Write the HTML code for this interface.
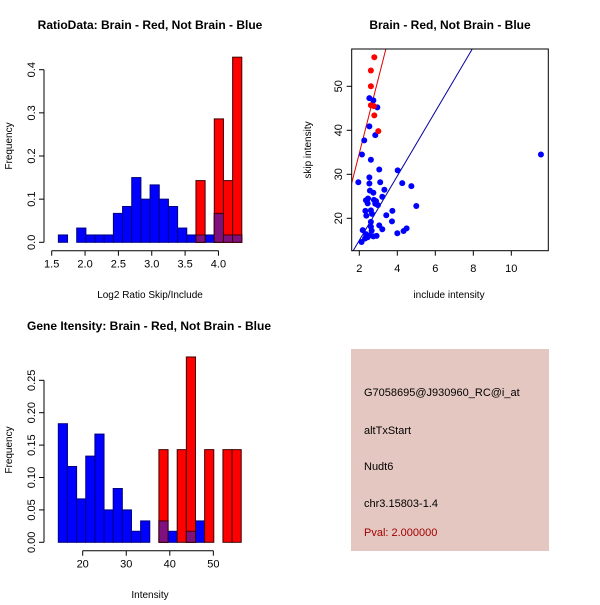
<!DOCTYPE html>
<html><head><meta charset="utf-8"><style>
body{margin:0;background:#fff}
svg text{font-family:"Liberation Sans",sans-serif;}
</style></head><body>
<svg id="c" width="600" height="600" xmlns="http://www.w3.org/2000/svg">
<rect width="600" height="600" fill="#fff"/>
<text x="150" y="29" font-size="12" font-weight="bold" text-anchor="middle">RatioData: Brain - Red, Not Brain - Blue</text>
<text x="450" y="29" font-size="12" font-weight="bold" text-anchor="middle">Brain - Red, Not Brain - Blue</text>
<text x="149" y="330" font-size="12" font-weight="bold" text-anchor="middle">Gene Itensity: Brain - Red, Not Brain - Blue</text>
<text x="150" y="298" font-size="10" text-anchor="middle">Log2 Ratio Skip/Include</text>
<text x="12" y="146" font-size="10" text-anchor="middle" transform="rotate(-90 12 146)">Frequency</text>
<text x="449" y="298" font-size="10" text-anchor="middle">include intensity</text>
<text x="311" y="150" font-size="10" text-anchor="middle" transform="rotate(-90 311 150)">skip intensity</text>
<text x="150" y="598" font-size="10" text-anchor="middle">Intensity</text>
<text x="12" y="450" font-size="10" text-anchor="middle" transform="rotate(-90 12 450)">Frequency</text>
<g>
<rect x="351" y="349" width="198" height="202" fill="#e5c7c1"/>
<text x="364" y="396" font-size="11">G7058695@J930960_RC@i_at</text>
<text x="364" y="434" font-size="11">altTxStart</text>
<text x="364" y="470" font-size="11">Nudt6</text>
<text x="364" y="507" font-size="11">chr3.15803-1.4</text>
<text x="364" y="536" font-size="11" fill="#a00000">Pval: 2.000000</text>
</g>
<g id="g1"></g>
<g id="g2"></g>
<g id="g3"></g>
</svg>
<script>
const ratioBlue=[0.017,0,0.033,0.017,0.017,0.017,0.067,0.083,0.15,0.1,0.133,0.1,0.083,0.033,0.017,0.017,0.017,0.067,0.017,0.017];
const ratioRed=[0,0,0,0,0,0,0,0,0,0,0,0,0,0,0,0.143,0,0.286,0.143,0.429];
const ratioXTicks=[1.5,2.0,2.5,3.0,3.5,4.0];
const ratioYTicks=[0.0,0.1,0.2,0.3,0.4];
const intBlue=[0.183,0.117,0.067,0.133,0.167,0.05,0.083,0.05,0.017,0.033,0,0.033,0.017,0,0.017,0.033,0,0,0,0];
const intRed=[0,0,0,0,0,0,0,0,0,0,0,0.143,0,0.143,0.286,0,0.143,0,0.143,0.143];
const intXTicks=[20,30,40,50];
const intYTicks=[0.00,0.05,0.10,0.15,0.20,0.25];
const redX=[2.79,2.61,2.61,2.61,2.77,2.79,3.0];
const redY=[56.6,53.6,50,45.7,45.5,43.4,39.8];
const blueX=[2.53,2.74,2.95,2.53,2.26,2.84,2.14,2.61,3.05,4.02,1.95,2.53,2.53,3.1,4.26,4.74,3.32,2.56,2.74,3.21,2.46,2.35,2.77,2.88,2.44,2.84,2.98,5.0,2.32,2.61,3.74,2.37,2.67,3.42,3.72,2.61,3.05,2.61,3.21,2.18,4.49,4.33,4.0,2.65,2.35,2.53,2.74,2.44,2.30,2.12,2.91,11.56];
const blueY=[47.3,46.8,45.2,40.9,37.7,38.9,34.5,33.3,31.1,30.9,28.2,29.3,27.9,28.2,28,27.3,26.5,26.3,25.8,24.9,24.5,24.1,24.2,23.9,23.4,23.3,23,22.8,21.7,21.8,21.7,20.6,21,20.7,19.3,19.2,18.4,18.1,17.5,17.3,17.7,17.1,16.6,17.2,16.4,16.1,15.9,15.7,15.4,14.6,16.0,34.5];
const redLine=[1.6,28,3.4,58.5];
const blueLine=[1.68,12.65,7.95,58.5];
const scXTicks=[2,4,6,8,10];
const scYTicks=[20,30,40,50];

const NS="http://www.w3.org/2000/svg";
function mk(p,t,a){const e=document.createElementNS(NS,t);for(const k in a)e.setAttribute(k,a[k]);p.appendChild(e);return e;}

function hist(g,blue,red,x0,bw,sx,sy,y0,xt,yt,xa,ya,fmt){
  for(let i=0;i<blue.length;i++){
    const xs=sx(x0+i*bw),xe=sx(x0+(i+1)*bw);
    if(blue[i]>0){const r=mk(g,'rect',{x:xs,y:sy(blue[i]),width:xe-xs,height:y0-sy(blue[i]),fill:'#0000ff',stroke:'#000080','stroke-width':1});
      
      }
  }
  for(let i=0;i<red.length;i++){
    const xs=sx(x0+i*bw),xe=sx(x0+(i+1)*bw);
    if(red[i]>0){const r=mk(g,'rect',{x:xs,y:sy(red[i]),width:xe-xs,height:y0-sy(red[i]),fill:'#ff0000',stroke:'#400000','stroke-width':1});
      
      
      const m=Math.min(red[i],blue[i]);
      if(m>0){const o=mk(g,'rect',{x:xs,y:sy(m),width:xe-xs,height:y0-sy(m),fill:'#7f1080',stroke:'#400000','stroke-width':1});
        
        }
    }
  }
  mk(g,'line',{x1:sx(xt[0]),x2:sx(xt[xt.length-1]),y1:xa,y2:xa,stroke:'#000'});
  xt.forEach(v=>{mk(g,'line',{x1:sx(v),x2:sx(v),y1:xa,y2:xa+5,stroke:'#000'});
    const t=mk(g,'text',{x:sx(v),y:xa+17,'font-size':11,'text-anchor':'middle'});t.textContent=fmt[0](v);
    
    });
  mk(g,'line',{x1:ya,x2:ya,y1:sy(yt[0]),y2:sy(yt[yt.length-1]),stroke:'#000'});
  yt.forEach(v=>{mk(g,'line',{x1:ya,x2:ya-5,y1:sy(v),y2:sy(v),stroke:'#000'});
    const t=mk(g,'text',{x:ya-9,y:sy(v),'font-size':11,'text-anchor':'middle',transform:`rotate(-90 ${ya-9} ${sy(v)})`});t.textContent=fmt[1](v);
    
    });
}
// ratio histogram
const rsx=v=>51.7+(v-1.5)*66.7, rsy=v=>242.3-v*431.5;
hist(document.getElementById('g1'),ratioBlue,ratioRed,1.6,0.1375,rsx,rsy,242.3,ratioXTicks,ratioYTicks,250.7,44,[v=>v.toFixed(1),v=>v.toFixed(1)]);
// intensity histogram
const isx=v=>82.7+(v-20)*4.355, isy=v=>542.3-v*648;
hist(document.getElementById('g3'),intBlue,intRed,14.4,2.1,isx,isy,542.3,intXTicks,intYTicks,550.7,44,[v=>String(v),v=>v.toFixed(2)]);
// scatter
const g2=document.getElementById('g2');
const ssx=v=>359.3+(v-2)*19, ssy=v=>86.3-(v-50)*4.4;
const cp=mk(g2,'clipPath',{id:'cl'});mk(cp,'rect',{x:351.7,y:49,width:196.6,height:201.7});
const l1=mk(g2,'line',{x1:ssx(redLine[0]),y1:ssy(redLine[1]),x2:ssx(redLine[2]),y2:ssy(redLine[3]),stroke:'#e00000','clip-path':'url(#cl)'});


const l2=mk(g2,'line',{x1:ssx(blueLine[0]),y1:ssy(blueLine[1]),x2:ssx(blueLine[2]),y2:ssy(blueLine[3]),stroke:'#0000a0','clip-path':'url(#cl)'});


blueX.forEach((x,i)=>{const c=mk(g2,'circle',{cx:ssx(x),cy:ssy(blueY[i]),r:3,fill:'#0000ff'});
  
  });
redX.forEach((x,i)=>{const c=mk(g2,'circle',{cx:ssx(x),cy:ssy(redY[i]),r:3,fill:'#ff0000'});
  
  });
mk(g2,'rect',{x:351.7,y:49,width:196.6,height:201.7,fill:'none',stroke:'#000'});
scXTicks.forEach(v=>{mk(g2,'line',{x1:ssx(v),x2:ssx(v),y1:250.7,y2:255.7,stroke:'#000'});
  const t=mk(g2,'text',{x:ssx(v),y:272,'font-size':11,'text-anchor':'middle'});t.textContent=v;
  
  });
scYTicks.forEach(v=>{mk(g2,'line',{x1:351.7,x2:346.7,y1:ssy(v),y2:ssy(v),stroke:'#000'});
  const t=mk(g2,'text',{x:342,y:ssy(v),'font-size':11,'text-anchor':'middle',transform:`rotate(-90 342 ${ssy(v)})`});t.textContent=v;
  
  });
</script>
</body></html>
